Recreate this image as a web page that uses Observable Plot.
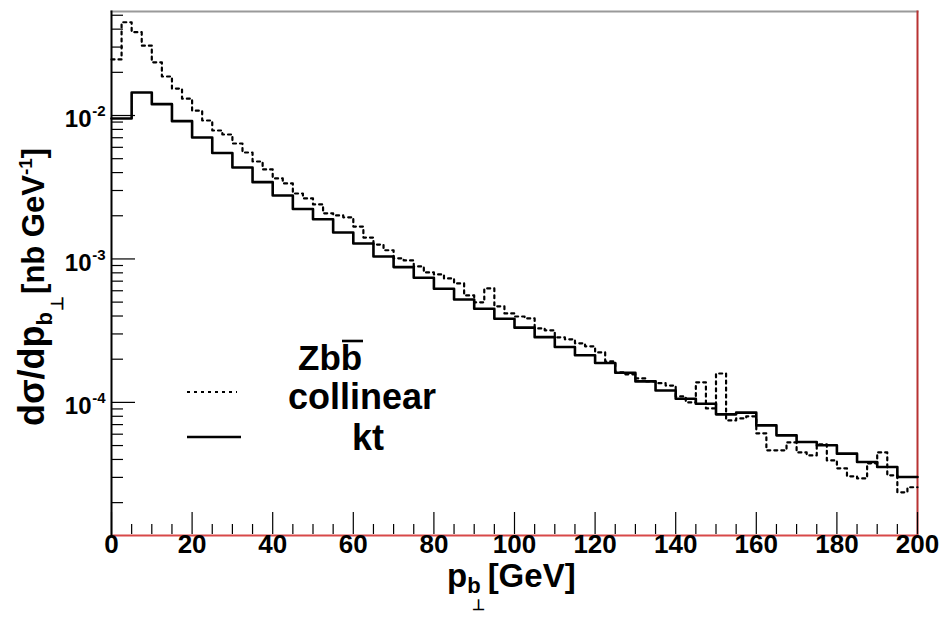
<!DOCTYPE html>
<html><head><meta charset="utf-8">
<script src="https://cdn.jsdelivr.net/npm/d3@7"></script>
<script src="https://cdn.jsdelivr.net/npm/@observablehq/plot@0.6"></script>
<style>
body{margin:0;background:#fff}
#chart svg{font-family:"Liberation Sans",Arial,Helvetica,sans-serif;font-weight:bold}
</style>
</head><body><div id="chart"></div>
<script>
// ---- data ----
const ktBinWidth = 5;          // GeV
const collinearBinWidth = 2.5; // GeV
const ktValues = [0.00953, 0.01446, 0.0120, 0.00913, 0.00703, 0.00548, 0.00434, 0.00343, 0.00277, 0.00223,
  0.00189, 0.00153, 0.00128, 0.00104, 0.000877, 0.000739, 0.000620, 0.000522, 0.000450, 0.000383,
  0.000332, 0.000285, 0.000243, 0.000213, 0.000188, 0.000161, 0.000140, 0.000121, 0.000106, 0.0000979,
  0.0000825, 0.0000848, 0.0000691, 0.0000589, 0.0000529, 0.0000502, 0.0000439, 0.0000384, 0.0000354, 0.0000302];
const collinearValues = [0.0246, 0.0447, 0.0381, 0.0307, 0.0235, 0.0187, 0.0154, 0.0131, 0.0108, 0.00923,
  0.00786, 0.00737, 0.00638, 0.00552, 0.00478, 0.00421, 0.00364, 0.00336, 0.00286, 0.00264,
  0.00240, 0.00208, 0.00201, 0.00195, 0.00168, 0.00141, 0.00126, 0.00115, 0.00101, 0.000976,
  0.000887, 0.000805, 0.000780, 0.000731, 0.000675, 0.000557, 0.000498, 0.000623, 0.000467, 0.000417,
  0.000397, 0.000385, 0.000328, 0.000318, 0.000284, 0.000275, 0.000258, 0.000246, 0.000223, 0.000193,
  0.000162, 0.000157, 0.000147, 0.000140, 0.000136, 0.000131, 0.000110, 0.000100, 0.000138, 0.0000908,
  0.000159, 0.0000749, 0.0000773, 0.0000799, 0.0000608, 0.0000463, 0.0000463, 0.0000526, 0.0000448, 0.0000427,
  0.0000510, 0.0000394, 0.0000347, 0.0000305, 0.0000295, 0.0000376, 0.0000448, 0.0000310, 0.0000236, 0.0000256];
const xTickValues = [0, 20, 40, 60, 80, 100, 120, 140, 160, 180, 200];
const xTickLabels = ["0", "20", "40", "60", "80", "100", "120", "140", "160", "180", "200"];
const yDecades = [1e-2, 1e-3, 1e-4];
const yDecadeBase = ["10", "10", "10"];
const yDecadeExp = ["-2", "-3", "-4"];
const seriesNames = ["collinear", "kt"];
const processName = "Zbb";

// ---- layout ----
const W = 942, H = 618, mL = 111, mR = 25, mT = 11, mB = 83;
const plotW = W - mL - mR, plotH = H - mT - mB;
const xDomain = [0, 200], yDomain = [1.18e-5, 0.0531];

function steps(values, w) {
  const pts = values.map((v, i) => ({x: i * w, y: v}));
  pts.push({x: values.length * w, y: values[values.length - 1]});
  return pts;
}
const ktSteps = steps(ktValues, ktBinWidth);
const colSteps = steps(collinearValues, collinearBinWidth);

const yMinor = [];
for (let e = -5; e <= -2; e++) for (let m = 2; m <= 9; m++) {
  const v = m * Math.pow(10, e);
  if (v > yDomain[0] && v < yDomain[1]) yMinor.push(v);
}
const xMinor = d3.range(0, 201, 5).filter(v => v % 20 !== 0);

const bold = {fontWeight: "bold", fill: "#000"};
const chart = Plot.plot({
  width: W, height: H, marginLeft: mL, marginRight: mR, marginTop: mT, marginBottom: mB,
  x: {domain: xDomain, axis: null},
  y: {type: "log", domain: yDomain, axis: null},
  style: {fontFamily: "Liberation Sans, Arial, sans-serif", background: "#fff", overflow: "visible"},
  marks: [
    Plot.frame({anchor: "top", stroke: "#9a9a9a", strokeWidth: 2}),
    Plot.frame({anchor: "right", stroke: "#b83232", strokeWidth: 2}),
    Plot.frame({anchor: "bottom", stroke: "#d84848", strokeWidth: 2}),
    Plot.line(colSteps, {x: "x", y: "y", curve: "step-after", stroke: "#000", strokeWidth: 2.2, strokeDasharray: "3,4"}),
    Plot.line(ktSteps, {x: "x", y: "y", curve: "step-after", stroke: "#000", strokeWidth: 2.6}),
    Plot.tickY(yMinor, {y: d => d, insetRight: plotW - 12, stroke: "#000", strokeWidth: 1.2}),
    Plot.tickY(yDecades, {y: d => d, insetRight: plotW - 24, stroke: "#000", strokeWidth: 1.2}),
    Plot.tickX(xMinor, {x: d => d, insetTop: plotH - 11, insetBottom: 1, stroke: "#000", strokeWidth: 1.2}),
    Plot.tickX(xTickValues, {x: d => d, insetTop: plotH - 23, insetBottom: 1, stroke: "#000", strokeWidth: 1.2}),
    Plot.frame({anchor: "left", stroke: "#000", strokeWidth: 2}),
    Plot.text(xTickValues, {x: d => d, frameAnchor: "bottom", dy: 17, text: (d, i) => xTickLabels[i], fontSize: 26, ...bold}),
    Plot.text(yDecades, {y: d => d, frameAnchor: "left", dx: -20, dy: 4, textAnchor: "end", text: (d, i) => yDecadeBase[i], fontSize: 24, ...bold}),
    Plot.text(yDecades, {y: d => d, frameAnchor: "left", dx: -6, dy: -4, textAnchor: "end", text: (d, i) => yDecadeExp[i], fontSize: 15, ...bold})
  ]
});
document.getElementById("chart").appendChild(chart);

// ---- titles and legend ----
const svg = d3.select(chart);
const g = svg.append("g").attr("font-family", "Liberation Sans, Arial, sans-serif")
  .attr("font-weight", "bold").attr("fill", "#000").attr("text-anchor", "start");

// x title
const xt = g.append("text").attr("x", 447).attr("y", 587).attr("font-size", 33);
xt.append("tspan").text("p");
xt.append("tspan").attr("font-size", 22).attr("dy", 6).text("b");
xt.append("tspan").attr("font-size", 15).attr("dy", 17).attr("dx", -9).text("⊥");
xt.append("tspan").attr("dy", -23).attr("dx", 3).text("[GeV]");

// y title (rotated, reads bottom to top)
const yt = g.append("text").attr("transform", "translate(44,426) rotate(-90)").attr("font-size", 31);
yt.append("tspan").attr("font-size", 36).text("dσ/dp");
yt.append("tspan").attr("font-size", 22).attr("dy", 8).text("b");
yt.append("tspan").attr("font-size", 17).attr("dy", 11).attr("dx", 1).text("⊥");
yt.append("tspan").attr("dy", -19).attr("dx", 2).text("[nb GeV");
yt.append("tspan").attr("font-size", 19).attr("dy", -12).text("-1");
yt.append("tspan").attr("dy", 12).text("]");

// legend
const zFont = 35;
g.append("text").attr("x", 298).attr("y", 370).attr("font-size", zFont).text(processName);
g.append("line").attr("x1", 342).attr("x2", 363).attr("y1", 341).attr("y2", 341)
  .attr("stroke", "#000").attr("stroke-width", 2.6);
g.append("line").attr("x1", 187).attr("x2", 237).attr("y1", 392).attr("y2", 392)
  .attr("stroke", "#000").attr("stroke-width", 2.2).attr("stroke-dasharray", "3,4");
g.append("line").attr("x1", 187).attr("x2", 241).attr("y1", 437).attr("y2", 437)
  .attr("stroke", "#000").attr("stroke-width", 2.6);
g.append("text").attr("x", 288).attr("y", 409).attr("font-size", 36).text(seriesNames[0]);
g.append("text").attr("x", 352).attr("y", 450).attr("font-size", 36).text(seriesNames[1]);
</script>
</body></html>
